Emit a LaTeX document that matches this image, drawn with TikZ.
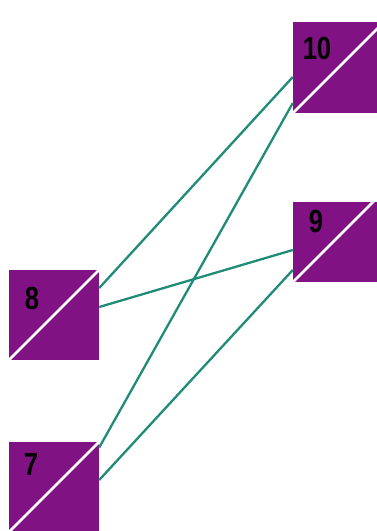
\documentclass[tikz,border=0pt]{standalone}
\usepackage{fontspec}
\setmainfont{Liberation Sans}
\usetikzlibrary{calc}
\definecolor{boxpurple}{RGB}{128,18,132}
\definecolor{linkteal}{RGB}{32,140,120}
\tikzset{
  box/.style={rectangle, fill=boxpurple, draw=none, inner sep=0pt,
    path picture={\draw[white, line width=2.6pt]
      (path picture bounding box.south west) -- ++(45:200pt);}},
  lbl/.style={inner sep=0pt, text=black, font=\fontsize{32}{32}\selectfont\bfseries, xscale=0.8},
  link/.style={draw=linkteal, line width=2.3pt}
}
\begin{document}
\begin{tikzpicture}[x=1pt,y=-1pt]
\useasboundingbox (0,0) rectangle (377,531);
\node[box, minimum width=91pt, minimum height=91pt] (n10) at (338.5,67.5) {};
\node[box, minimum width=84pt, minimum height=80pt] (n9) at (335,242) {};
\node[box, minimum width=90pt, minimum height=90pt] (n8) at (54,315) {};
\node[box, minimum width=90pt, minimum height=90pt] (n7) at (54,487) {};
\node[lbl] (l10) at (317,48) {10};
\node[lbl] (l9) at (316,221) {9};
\node[lbl] (l8) at (32,298) {8};
\node[lbl] (l7) at (31,464) {7};
\draw[link] ([yshift=27pt]n8.east) -- ([yshift=-9.5pt]n10.west);
\draw[link] ([yshift=8pt]n8.east) -- ([yshift=-8pt]n9.west);
\draw[link] ([yshift=39.5pt]n7.east) -- ([yshift=-35.5pt]n10.west);
\draw[link] ([yshift=7pt]n7.east) -- ([yshift=-28pt]n9.west);
\end{tikzpicture}
\end{document}
